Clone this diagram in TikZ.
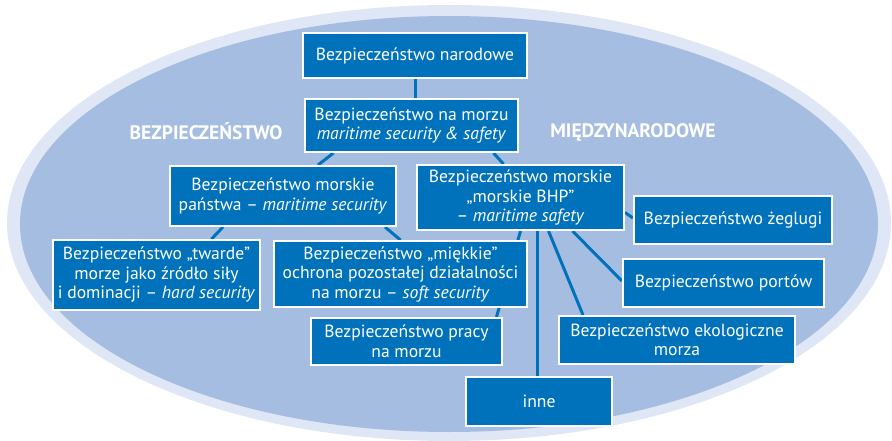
\documentclass[tikz,border=0pt]{standalone}
\usepackage{fontspec}
\setmainfont{PT Sans}
\usepackage{xcolor}
\usepackage{tikz}
\usetikzlibrary{calc}
\usetikzlibrary{positioning}
\definecolor{ringblue}{HTML}{DFE6F5}
\definecolor{seablue}{HTML}{A6BDE2}
\definecolor{boxblue}{HTML}{0072BC}
\pgfdeclarelayer{background}
\pgfsetlayers{background,main}

\begin{document}
\begin{tikzpicture}[x=1pt,y=-1pt,
    box/.style={fill=boxblue, draw=white, line width=2pt, text=white, align=center,
                inner sep=0pt, font=\fontsize{17.6}{19.5}\selectfont},
    link/.style={draw=boxblue, line width=3pt},
    bigword/.style={text=white, font=\fontsize{19.5}{22}\selectfont\bfseries}]
\useasboundingbox (0,0) rectangle (892,441);

       \node[box, minimum width=224pt, minimum height=45pt] (narodowe) at (415,55.5) {Bezpieczeństwo narodowe};
       
       \node[box, minimum width=213pt, minimum height=53pt] (namorzu) at (411.5,125.5)
            {Bezpieczeństwo na morzu\\ \textit{maritime security \& safety}};
       
       \node[box, minimum width=226pt, minimum height=60pt] (panstwa) at (283,196)
            {Bezpieczeństwo morskie\\ państwa -- \textit{maritime security}};
       
       \node[box, minimum width=207pt, minimum height=65pt] (bhp) at (520.5,197.5)
            {Bezpieczeństwo morskie\\ „morskie BHP”\\ -- \textit{maritime safety}};
       
       \node[box, minimum width=207pt, minimum height=70pt] (twarde) at (156.5,275)
            {Bezpieczeństwo „twarde”\\ morze jako źródło siły\\ i dominacji -- \textit{hard security}};
       
       \node[box, minimum width=253pt, minimum height=66pt] (miekkie) at (400.5,274)
            {Bezpieczeństwo „miękkie”\\ ochrona pozostałej działalności\\ na morzu -- \textit{soft security}};
       
       \node[box, minimum width=191pt, minimum height=47pt] (pracy) at (406.5,341.5)
            {Bezpieczeństwo pracy\\ na morzu};
       
       \node[box, minimum width=146pt, minimum height=49pt] (inne) at (539,401.5) {inne};
       
       \node[box, minimum width=198pt, minimum height=48pt] (zeglugi) at (733,220) {Bezpieczeństwo żeglugi};
       
       \node[box, minimum width=201pt, minimum height=48pt] (portow) at (723.5,283) {Bezpieczeństwo portów};
       
       \node[box, minimum width=236pt, minimum height=48pt] (ekologia) at (677,340)
            {Bezpieczeństwo ekologiczne\\ morza};
       
       \node[bigword] (bezp) at (206,131) {BEZPIECZEŃSTWO};
       \node[bigword] (miedzy) at (633,132) {MIĘDZYNARODOWE};
       
       \begin{pgfonlayer}{background}
       % the sea and its light rim
       \fill[ringblue] (449,223) ellipse [x radius=442, y radius=218];
       \fill[seablue] (449,224) ellipse [x radius=429, y radius=208];
       
       \draw[link] (narodowe.south) -- (narodowe.south |- namorzu.north);
       \draw[link] ([xshift=-78pt]namorzu.south) -- ([xshift=35pt]panstwa.north);
       \draw[link] ([xshift=82pt]namorzu.south) -- ([xshift=-17pt]bhp.north);
       
       \draw[link] ([xshift=-60pt]panstwa.south) -- ([xshift=55pt]twarde.north);
       \draw[link] ([xshift=102pt]panstwa.south) -- (miekkie.north);
       
       \draw[link] (bhp.south) -- ([xshift=90pt]pracy.north);
       \draw[link] ([xshift=17pt]bhp.south) -- ([xshift=17pt]bhp.south |- inne.north);
       \draw[link] ([xshift=28pt]bhp.south) -- ([xshift=-94pt]ekologia.north);
       \draw[link] ([xshift=52pt]bhp.south) -- ([yshift=2pt]portow.west);
       \draw[link] ([yshift=-15pt]bhp.east) -- ([yshift=2pt]zeglugi.west);
       \end{pgfonlayer}
\end{tikzpicture}
\end{document}
